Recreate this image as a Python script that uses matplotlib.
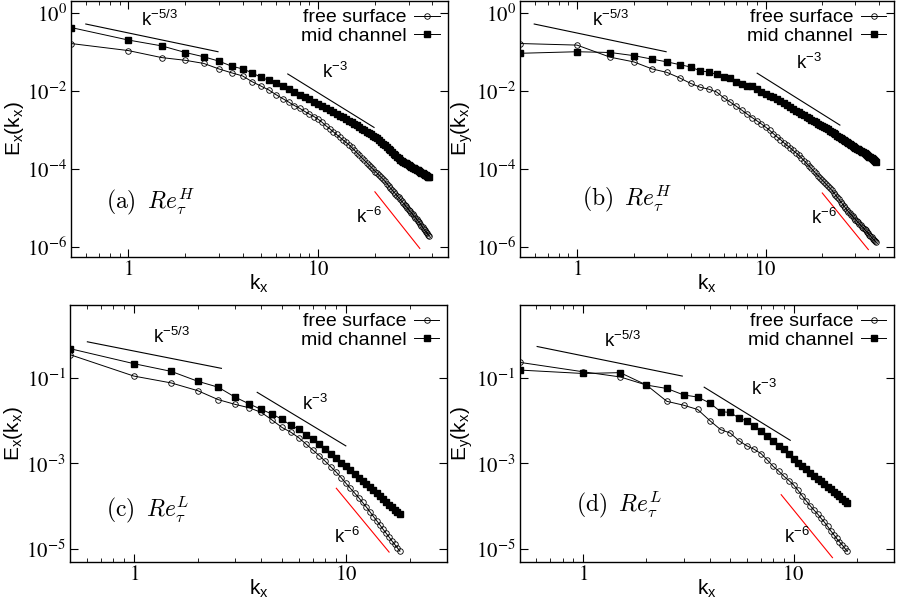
import numpy as np
import matplotlib
matplotlib.use('Agg')
import matplotlib.pyplot as plt
from matplotlib.ticker import FixedLocator, LogLocator, FuncFormatter, NullFormatter, NullLocator

plt.rcParams['font.family'] = ['Liberation Sans', 'DejaVu Sans']
plt.rcParams['mathtext.fontset'] = 'stix'          # Times-like tick labels
plt.rcParams['mathtext.rm'] = 'Liberation Sans'     # used by math_fontfamily='custom'
plt.rcParams['mathtext.it'] = 'Liberation Sans:italic'
plt.rcParams['mathtext.bf'] = 'Liberation Sans:bold'
plt.rcParams['mathtext.sf'] = 'Liberation Sans'

# wavenumbers (spectral grid, step 0.5)
k_H = np.arange(1, 78) * 0.5     # 0.5 ... 38.5
k_L = np.arange(1, 37) * 0.5     # 0.5 ... 18

# spectra as log10(E)
a_free = [-0.79, -0.97, -1.15, -1.22, -1.30, -1.44, -1.54, -1.62, -1.77, -1.88,
          -1.98, -2.10, -2.20, -2.29, -2.38, -2.45, -2.53, -2.60, -2.66, -2.73,
          -2.81, -2.90, -2.97, -3.05, -3.12, -3.19, -3.26, -3.32, -3.38, -3.45,
          -3.52, -3.59, -3.65, -3.72, -3.78, -3.84, -3.90, -3.96, -4.01, -4.07,
          -4.12, -4.17, -4.22, -4.27, -4.32, -4.38, -4.43, -4.49, -4.54, -4.59,
          -4.64, -4.69, -4.73, -4.78, -4.83, -4.87, -4.92, -4.96, -5.01, -5.05,
          -5.09, -5.13, -5.17, -5.21, -5.25, -5.29, -5.33, -5.37, -5.41, -5.46,
          -5.50, -5.54, -5.58, -5.62, -5.65, -5.69, -5.73]
a_mid = [-0.38, -0.70, -0.85, -1.02, -1.13, -1.24, -1.37, -1.44, -1.54, -1.66,
         -1.73, -1.81, -1.89, -1.96, -2.03, -2.10, -2.16, -2.22, -2.28, -2.33,
         -2.39, -2.44, -2.50, -2.55, -2.59, -2.64, -2.68, -2.73, -2.77, -2.81,
         -2.85, -2.89, -2.93, -2.97, -3.01, -3.05, -3.09, -3.12, -3.15, -3.19,
         -3.22, -3.27, -3.31, -3.36, -3.40, -3.45, -3.49, -3.53, -3.57, -3.61,
         -3.65, -3.69, -3.73, -3.77, -3.79, -3.82, -3.84, -3.86, -3.88, -3.90,
         -3.93, -3.95, -3.97, -3.99, -4.01, -4.03, -4.04, -4.06, -4.08, -4.10,
         -4.12, -4.14, -4.15, -4.17, -4.19, -4.20, -4.22]
b_free = [-0.79, -0.83, -1.14, -1.26, -1.44, -1.53, -1.67, -1.81, -1.91, -1.96,
          -2.03, -2.18, -2.29, -2.40, -2.50, -2.60, -2.69, -2.77, -2.85, -2.93,
          -3.01, -3.10, -3.18, -3.25, -3.33, -3.40, -3.46, -3.53, -3.59, -3.65,
          -3.72, -3.79, -3.86, -3.93, -3.99, -4.06, -4.12, -4.18, -4.23, -4.29,
          -4.34, -4.40, -4.45, -4.50, -4.55, -4.61, -4.67, -4.73, -4.78, -4.84,
          -4.89, -4.95, -5.00, -5.05, -5.10, -5.14, -5.18, -5.22, -5.26, -5.30,
          -5.34, -5.37, -5.41, -5.45, -5.48, -5.52, -5.55, -5.58, -5.62, -5.65,
          -5.69, -5.72, -5.75, -5.79, -5.82, -5.85, -5.88]
b_mid = [-1.04, -1.00, -1.02, -1.10, -1.19, -1.26, -1.33, -1.39, -1.49, -1.52,
         -1.58, -1.65, -1.68, -1.77, -1.83, -1.87, -1.88, -1.95, -2.02, -2.09,
         -2.13, -2.17, -2.21, -2.25, -2.31, -2.36, -2.41, -2.46, -2.51, -2.55,
         -2.59, -2.63, -2.67, -2.70, -2.74, -2.77, -2.80, -2.84, -2.87, -2.90,
         -2.93, -2.96, -2.99, -3.02, -3.05, -3.08, -3.12, -3.15, -3.18, -3.21,
         -3.24, -3.27, -3.29, -3.32, -3.35, -3.37, -3.40, -3.42, -3.44, -3.46,
         -3.48, -3.50, -3.52, -3.54, -3.56, -3.58, -3.60, -3.62, -3.64, -3.67,
         -3.69, -3.71, -3.73, -3.76, -3.78, -3.80, -3.82]
c_free = [-0.46, -0.96, -1.12, -1.30, -1.51, -1.62, -1.70, -1.81, -1.99, -2.16,
          -2.27, -2.40, -2.55, -2.69, -2.82, -2.95, -3.08, -3.20, -3.33, -3.46,
          -3.58, -3.69, -3.80, -3.91, -4.02, -4.13, -4.24, -4.34, -4.44, -4.54,
          -4.63, -4.72, -4.81, -4.89, -4.97, -5.05]
c_mid = [-0.32, -0.67, -0.85, -1.08, -1.22, -1.45, -1.61, -1.74, -1.85, -1.97,
         -2.11, -2.20, -2.34, -2.43, -2.55, -2.67, -2.77, -2.88, -2.98, -3.07,
         -3.16, -3.24, -3.33, -3.41, -3.48, -3.56, -3.63, -3.70, -3.77, -3.84,
         -3.90, -3.96, -4.02, -4.08, -4.13, -4.18]
d_free = [-0.64, -0.86, -0.98, -1.17, -1.55, -1.64, -1.74, -2.00, -2.21, -2.29,
          -2.47, -2.59, -2.67, -2.77, -2.92, -3.07, -3.18, -3.30, -3.40, -3.50,
          -3.63, -3.76, -3.88, -3.99, -4.09, -4.18, -4.28, -4.37, -4.47, -4.57,
          -4.66, -4.75, -4.83, -4.90, -4.98, -5.05]
d_mid = [-0.82, -0.90, -0.88, -1.17, -1.25, -1.40, -1.45, -1.59, -1.79, -1.81,
         -1.94, -2.01, -2.13, -2.24, -2.36, -2.47, -2.59, -2.67, -2.79, -2.90,
         -2.99, -3.07, -3.14, -3.22, -3.29, -3.36, -3.42, -3.48, -3.55, -3.60,
         -3.66, -3.72, -3.77, -3.82, -3.87, -3.92]

# guide lines (k^-5/3, k^-3, k^-6): end points in k and log10(E)
guide_labels = ['k$^{\\mathrm{-5/3}}$', 'k$^{\\mathrm{-3}}$', 'k$^{\\mathrm{-6}}$']
guide_colors = ['black', 'black', 'red']
a_guide_k = [(0.598, 2.97), (6.92, 19.7), (19.9, 34.3)]
a_guide_e = [(-0.29, -1.00), (-1.57, -2.94), (-4.59, -6.04)]
b_guide_k = [(0.593, 2.97), (9.03, 24.8), (20.0, 35.1)]
b_guide_e = [(-0.29, -1.00), (-1.55, -2.88), (-4.62, -6.07)]
c_guide_k = [(0.604, 2.59), (3.82, 10.0), (9.02, 16.0)]
c_guide_e = [(-0.16, -0.78), (-1.34, -2.59), (-3.58, -5.07)]
d_guide_k = [(0.605, 2.96), (3.76, 9.64), (8.73, 15.3)]
d_guide_e = [(-0.27, -0.96), (-1.22, -2.46), (-3.73, -5.20)]

panel_tags = [r'$\mathrm{(a)}\;\;Re_\tau^H$', r'$\mathrm{(b)}\;\;Re_\tau^H$',
              r'$\mathrm{(c)}\;\;Re_\tau^L$', r'$\mathrm{(d)}\;\;Re_\tau^L$']
ylabels = ['E$_\\mathrm{x}$(k$_\\mathrm{x}$)', 'E$_\\mathrm{y}$(k$_\\mathrm{x}$)',
           'E$_\\mathrm{x}$(k$_\\mathrm{x}$)', 'E$_\\mathrm{y}$(k$_\\mathrm{x}$)']


def draw_panel(ax, k, free, mid, gk, ge, tag, ylab, xmax, ylim, yticks,
               label_pos, tag_pos):
    ax.plot(k, 10 ** np.array(free), '-o', color='black', lw=0.7, ms=4.0,
            mfc='none', mew=0.6, label='free surface')
    ax.plot(k, 10 ** np.array(mid), '-s', color='black', lw=0.7, ms=4.3,
            label='mid channel')
    for (k0, k1), (e0, e1), col in zip(gk, ge, guide_colors):
        ax.plot([k0, k1], [10 ** e0, 10 ** e1], color=col, lw=0.8)
    for txt, (fx, fy) in zip(guide_labels, label_pos):
        ax.text(fx, fy, txt, transform=ax.transAxes, ha='center', va='center',
                fontsize=13.5, math_fontfamily='custom')
    ax.text(tag_pos[0], tag_pos[1], tag, transform=ax.transAxes, ha='left',
            va='center', fontsize=17, math_fontfamily='cm')

    ax.set_xscale('log')
    ax.set_yscale('log')
    ax.set_xlim(0.5, xmax)
    ax.set_ylim(*ylim)
    ax.xaxis.set_major_locator(FixedLocator([1, 10]))
    ax.xaxis.set_minor_locator(LogLocator(base=10, subs=np.arange(2, 10), numticks=50))
    ax.xaxis.set_major_formatter(FuncFormatter(lambda v, p: r'$\mathrm{%g}$' % v))
    ax.xaxis.set_minor_formatter(NullFormatter())
    ax.yaxis.set_major_locator(FixedLocator(yticks))
    ax.yaxis.set_minor_locator(NullLocator())
    ax.yaxis.set_major_formatter(FuncFormatter(
        lambda v, p: r'$\mathrm{10^{%d}}$' % round(np.log10(v))))
    ax.tick_params(which='both', direction='in', top=True, right=True,
                   labelsize=15)
    ax.tick_params(axis='x', pad=2)
    ax.tick_params(axis='y', pad=3)
    ax.tick_params(which='major', length=6, width=0.8)
    ax.tick_params(which='minor', length=3, width=0.6)
    for sp in ax.spines.values():
        sp.set_linewidth(1.0)

    ax.set_xlabel('k$_\\mathrm{x}$', fontsize=15, math_fontfamily='custom')
    ax.xaxis.set_label_coords(0.5, -0.06)
    ax.set_ylabel(ylab, fontsize=15, math_fontfamily='custom')
    ax.yaxis.set_label_coords(-0.12, 0.5)
    ax.legend(loc='upper right', markerfirst=False, frameon=False, fontsize=14,
              handlelength=1.3, handletextpad=0.4, borderaxespad=0.2,
              borderpad=0.2, labelspacing=0.05)


fig = plt.figure(figsize=(8.97, 5.99), dpi=100)
ax_a = fig.add_axes([0.0792, 0.571, 0.4197, 0.4274])
ax_b = fig.add_axes([0.5800, 0.571, 0.4166, 0.4274])
ax_c = fig.add_axes([0.0780, 0.0618, 0.4203, 0.429])
ax_d = fig.add_axes([0.5794, 0.0618, 0.4173, 0.429])

ylim_H = (5.5e-7, 2.0)
ylim_L = (5e-6, 5.0)
ticks_H = [1e0, 1e-2, 1e-4, 1e-6]
ticks_L = [1e-1, 1e-3, 1e-5]

draw_panel(ax_a, k_H, a_free, a_mid, a_guide_k, a_guide_e, panel_tags[0], ylabels[0],
           48, ylim_H, ticks_H, [(0.236, 0.926), (0.701, 0.723), (0.792, 0.156)],
           (0.093, 0.211))
draw_panel(ax_b, k_H, b_free, b_mid, b_guide_k, b_guide_e, panel_tags[1], ylabels[1],
           48, ylim_H, ticks_H, [(0.240, 0.926), (0.773, 0.758), (0.812, 0.152)],
           (0.165, 0.223))
draw_panel(ax_c, k_L, c_free, c_mid, c_guide_k, c_guide_e, panel_tags[2], ylabels[2],
           30, ylim_L, ticks_L, [(0.270, 0.875), (0.650, 0.615), (0.735, 0.097)],
           (0.095, 0.200))
draw_panel(ax_d, k_L, d_free, d_mid, d_guide_k, d_guide_e, panel_tags[3], ylabels[3],
           30, ylim_L, ticks_L, [(0.274, 0.860), (0.653, 0.673), (0.741, 0.097)],
           (0.150, 0.220))

fig.savefig('out.png', dpi=100)
